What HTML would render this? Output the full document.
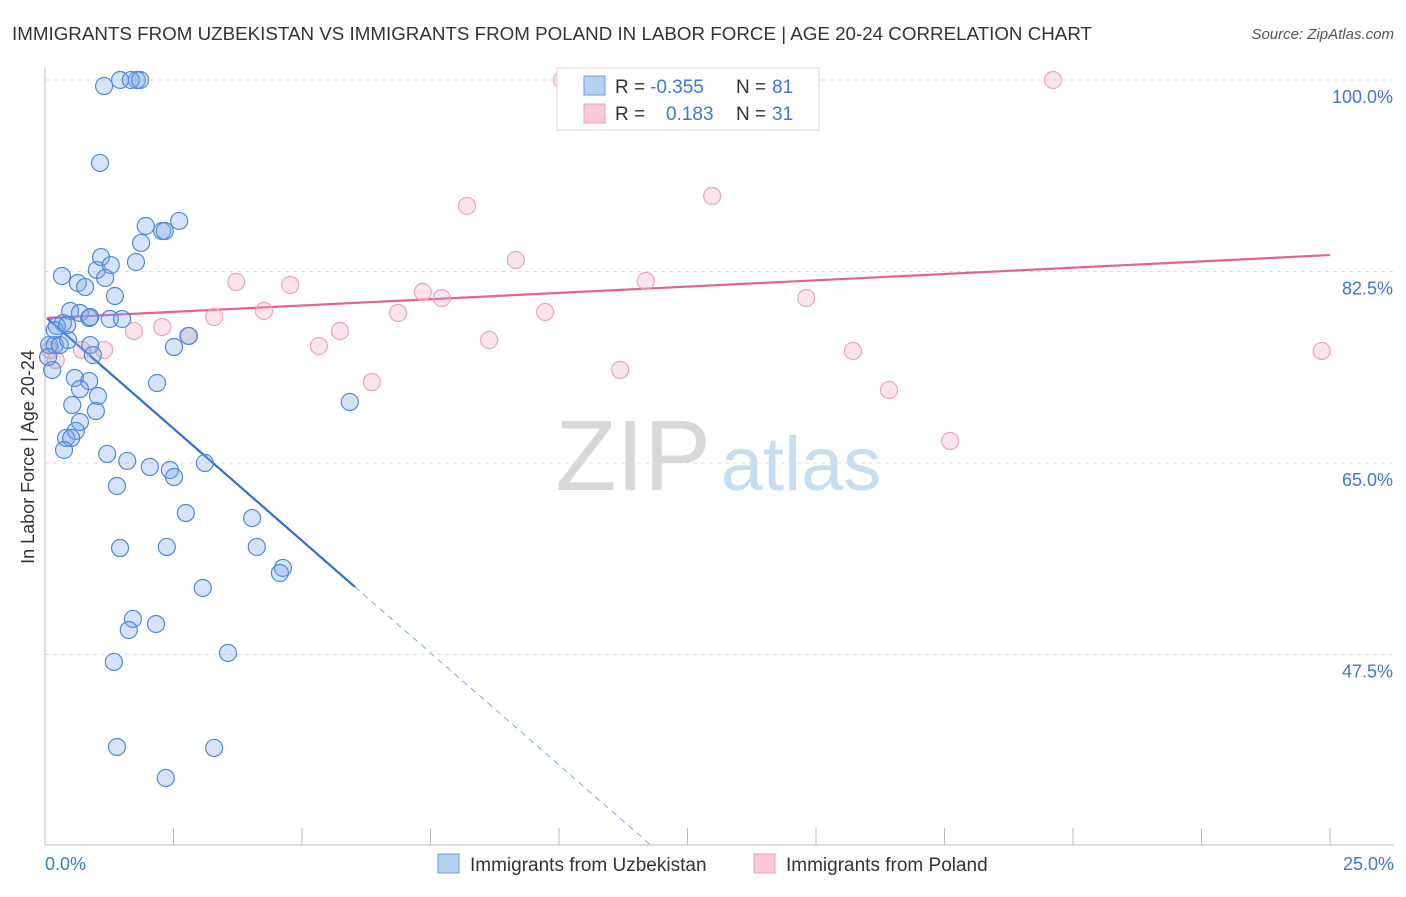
<!DOCTYPE html>
<html><head><meta charset="utf-8"><style>
body{margin:0;background:#fff;font-family:"Liberation Sans",sans-serif;}
svg text{font-family:"Liberation Sans",sans-serif;}
</style></head><body>
<svg id="chart" width="1406" height="892" viewBox="0 0 1406 892" xmlns="http://www.w3.org/2000/svg">
<text x="12" y="40" font-size="18" fill="#333" textLength="1080" lengthAdjust="spacingAndGlyphs">IMMIGRANTS FROM UZBEKISTAN VS IMMIGRANTS FROM POLAND IN LABOR FORCE | AGE 20-24 CORRELATION CHART</text>
<text x="1394" y="39" font-size="15" fill="#555" text-anchor="end" font-style="italic">Source: ZipAtlas.com</text>
<g>
<text x="633" y="490" font-size="100" fill="#d8d8d8" font-family="Liberation Serif, serif" text-anchor="middle">ZIP</text>
<text x="801" y="490" font-size="76" fill="#c8dcf2" text-anchor="middle">atlas</text>
</g>
<g id="grid"></g>
<line x1="45" y1="68" x2="45" y2="845" stroke="#bbb"/>
<line x1="45" y1="845" x2="1394" y2="845" stroke="#bbb"/>
<text transform="translate(34,457) rotate(-90)" font-size="18" fill="#333" text-anchor="middle">In Labor Force | Age 20-24</text>
<text x="45" y="870" font-size="18" fill="#3b78d8">0.0%</text>
<text x="1394" y="870" font-size="18" fill="#3b78d8" text-anchor="end">25.0%</text>
<g id="ticks"></g>
<g id="lines"></g>
<g id="points"></g>
<g>
<rect x="557" y="68" width="262" height="62" fill="#fff" stroke="#ddd"/>
<rect x="584" y="76" width="21" height="19" fill="#b8d1f3" stroke="#6c9be0"/>
<rect x="584" y="104" width="21" height="19" fill="#f8c8d6" stroke="#eba0b8"/>
<text x="615" y="93" font-size="19" fill="#333">R =</text>
<text x="650" y="93" font-size="19" fill="#3b78d8">-0.355</text>
<text x="736" y="93" font-size="19" fill="#333">N =</text>
<text x="772" y="93" font-size="19" fill="#3b78d8">81</text>
<text x="615" y="120" font-size="19" fill="#333">R =</text>
<text x="666" y="120" font-size="19" fill="#3b78d8">0.183</text>
<text x="736" y="120" font-size="19" fill="#333">N =</text>
<text x="772" y="120" font-size="19" fill="#3b78d8">31</text>
</g>
<g>
<rect x="438" y="854" width="21" height="19" fill="#b8d1f3" stroke="#6c9be0"/>
<text x="470" y="871" font-size="19" fill="#333">Immigrants from Uzbekistan</text>
<rect x="754" y="854" width="21" height="19" fill="#f8c8d6" stroke="#eba0b8"/>
<text x="786" y="871" font-size="19" fill="#333">Immigrants from Poland</text>
</g>
</svg>
<script>
const yTicks=[100,82.5,65,47.5];
const yTickLabels=["100.0%","82.5%","65.0%","47.5%"];
const xTicks=[0,2.5,5,7.5,10,12.5,15,17.5,20,22.5,25];
const blueX=[1.15,1.46,1.67,1.79,1.85,1.07,1.96,2.28,2.33,2.61,1.87,1.77,0.33,0.64,0.78,1.01,1.09,1.28,1.17,1.36,0.49,0.68,0.86,1.26,1.50,0.35,0.23,0.08,0.19,0.29,0.45,0.88,0.93,0.14,0.58,0.86,0.68,1.03,0.53,0.99,0.68,0.60,0.41,0.51,0.37,1.21,1.60,1.40,2.04,2.43,2.51,3.11,2.74,4.03,1.46,2.37,4.12,4.63,4.57,3.07,1.71,1.63,2.16,3.56,1.34,1.40,3.29,2.35,5.93,2.18,2.51,2.80,0.06,0.19,0.43,0.88];
const blueY=[99.45,100,100,100,100,92.42,86.66,86.2,86.2,87.12,85.11,83.37,82.09,81.45,81.08,82.64,83.82,83.09,81.91,80.26,78.89,78.71,78.25,78.16,78.16,77.79,77.52,75.78,75.78,75.78,76.24,75.78,74.87,73.5,72.77,72.49,71.76,71.12,70.3,69.75,68.75,67.93,67.29,67.29,66.19,65.83,65.19,62.9,64.64,64.36,63.72,65.0,60.43,59.97,57.23,57.33,57.33,55.41,54.95,53.58,50.75,49.74,50.29,47.64,46.82,39.05,38.96,36.22,70.58,72.31,75.6,76.61,74.69,77.15,77.61,78.34];
const pinkX=[10.06,19.61,8.21,12.98,9.16,3.72,4.77,11.69,7.35,7.72,14.81,4.26,6.87,9.73,3.29,2.28,1.73,5.74,8.64,5.33,1.15,15.72,24.84,6.36,11.19,16.42,17.61,2.78,0.72,0.10,0.21];
const pinkY=[100,100,88.49,89.4,83.55,81.54,81.27,81.63,80.63,80.08,80.08,78.89,78.71,78.8,78.34,77.43,77.06,77.06,76.24,75.69,75.33,75.24,75.24,72.4,73.5,71.67,67.01,76.61,75.33,75.33,74.41];
const blueTrend=[78.4,-4.1];
const pinkTrend=[78.25,0.23];
const NS="http://www.w3.org/2000/svg";
function xs(v){return 45+v*51.4;}
function ys(v){return 80+(100-v)*10.943;}
function mk(tag,attrs,parent){const e=document.createElementNS(NS,tag);for(const k in attrs)e.setAttribute(k,attrs[k]);parent.appendChild(e);return e;}
const grid=document.getElementById('grid');
yTicks.forEach((t,i)=>{
 const l=mk('line',{x1:45,x2:1394,y1:ys(t),y2:ys(t),stroke:'#ddd','stroke-dasharray':'4,4'},grid);
 
 
 const tx=mk('text',{x:1393,y:ys(t)+23,'font-size':18,fill:'#3b78d8','text-anchor':'end'},grid);
 tx.textContent=yTickLabels[i];
 
 
});
const tk=document.getElementById('ticks');
xTicks.forEach(t=>{
 const l=mk('line',{x1:xs(t),x2:xs(t),y1:828,y2:845,stroke:'#bbb'},tk);
 
 
});
const pts=document.getElementById('points');
pinkX.forEach((x,i)=>{
 const c=mk('circle',{cx:xs(x),cy:ys(pinkY[i]),r:8.5,fill:'rgba(244,164,190,0.3)',stroke:'#eca3bb','stroke-width':1.2},pts);
 
 
});
blueX.forEach((x,i)=>{
 const c=mk('circle',{cx:xs(x),cy:ys(blueY[i]),r:8.5,fill:'rgba(120,165,235,0.3)',stroke:'#4f88de','stroke-width':1.2},pts);
 
 
});
const ln=document.getElementById('lines');
const bEnd=(blueTrend[0]-30.1)/(-blueTrend[1]);
const b1=mk('line',{x1:xs(0.04),y1:ys(blueTrend[0]+blueTrend[1]*0.04),x2:xs(6.03),y2:ys(blueTrend[0]+blueTrend[1]*6.03),stroke:'#2a6fd6','stroke-width':2.2},ln);


const b2=mk('line',{x1:xs(6.03),y1:ys(blueTrend[0]+blueTrend[1]*6.03),x2:xs(bEnd),y2:ys(30.1),stroke:'#7aa6e6','stroke-width':1,'stroke-dasharray':'6,5'},ln);


const p1=mk('line',{x1:xs(0.04),y1:ys(pinkTrend[0]),x2:xs(25),y2:ys(pinkTrend[0]+pinkTrend[1]*25),stroke:'#e5628f','stroke-width':2.2},ln);


</script>
</body></html>
